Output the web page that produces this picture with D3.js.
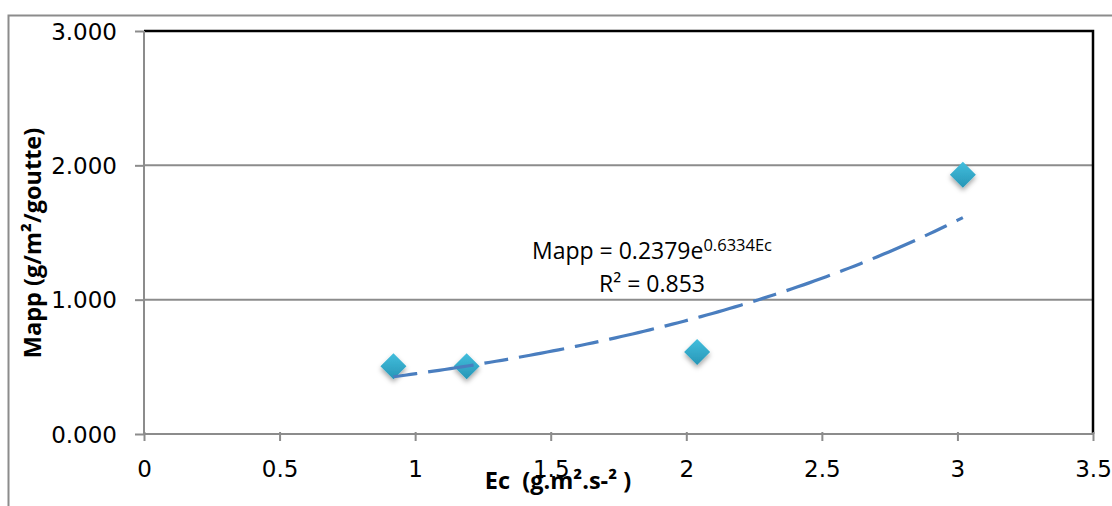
<!DOCTYPE html>
<meta charset="utf-8">
<style>
body { margin: 0; background: #fff; }
.axis-title { font: bold 23.5px "Open Sans", sans-serif; fill: #000; white-space: pre; }
.trend-label { font: 23px "Open Sans", sans-serif; fill: #000; }
</style>
<svg width="1112" height="506"></svg>
<script src="https://cdnjs.cloudflare.com/ajax/libs/d3/7.8.5/d3.min.js"></script>
<script>

// measured points
var ecValues = [0.92, 1.19, 2.04, 3.02];
var mappValues = [0.505, 0.505, 0.61, 1.93];

// exponential fit shown on the chart
var fitA = 0.2379, fitB = 0.6334;
var fitR2 = "0.853";

var xTicks = [0, 0.5, 1, 1.5, 2, 2.5, 3, 3.5];
var yTicks = [0, 1, 2, 3];

var svg = d3.select("svg"),
    margin = {left: 144, right: 19, top: 31, bottom: 72},
    width = +svg.attr("width") - margin.left - margin.right,
    height = +svg.attr("height") - margin.top - margin.bottom;

// outer chart frame
svg.append("rect")
    .attr("x", 8.5).attr("y", 15.5)
    .attr("width", 1120).attr("height", 520)
    .attr("fill", "none")
    .attr("stroke", "#8c8c8c")
    .attr("stroke-width", 2);

var x = d3.scaleLinear().domain([0, 3.5]).range([0, width]);
var y = d3.scaleLinear().domain([0, 3]).range([height, 0]);

var defs = svg.append("defs");
var grad = defs.append("linearGradient")
    .attr("id", "diam").attr("x1", 0).attr("y1", 0).attr("x2", 0).attr("y2", 1);
grad.append("stop").attr("offset", "0%").attr("stop-color", "#42bedd");
grad.append("stop").attr("offset", "100%").attr("stop-color", "#2796b6");

var shadow = defs.append("filter").attr("id", "shadow")
    .attr("x", "-50%").attr("y", "-50%").attr("width", "200%").attr("height", "200%");
shadow.append("feDropShadow")
    .attr("dx", 0).attr("dy", 3).attr("stdDeviation", 2.5)
    .attr("flood-color", "#000").attr("flood-opacity", 0.35);

var g = svg.append("g").attr("transform", "translate(" + margin.left + "," + margin.top + ")");

// gridlines
g.append("g")
  .selectAll("line")
  .data(yTicks.filter(function(d) { return d > 0 && d < 3; }))
  .enter().append("line")
    .attr("x1", 0).attr("x2", width)
    .attr("y1", function(d) { return y(d); })
    .attr("y2", function(d) { return y(d); })
    .attr("stroke", "#8c8c8c")
    .attr("stroke-width", 2);

// plot area border (top + right black)
g.append("path")
    .attr("d", "M0," + y(3) + "H" + width + "V" + height)
    .attr("fill", "none")
    .attr("stroke", "#000")
    .attr("stroke-width", 2.5);

var xAxis = g.append("g")
    .attr("transform", "translate(0," + height + ")")
    .call(d3.axisBottom(x).tickValues(xTicks).tickSize(0).tickPadding(27)
      .tickFormat(function(d) { return String(d); }));
xAxis.selectAll(".tick").append("line")
    .attr("y1", -2).attr("y2", 7)
    .attr("stroke", "#8c8c8c").attr("stroke-width", 2);

var yAxis = g.append("g")
    .call(d3.axisLeft(y).tickValues(yTicks).tickSize(9).tickPadding(18)
      .tickFormat(d3.format(".3f")));
yAxis.selectAll(".tick line").attr("stroke", "#8c8c8c").attr("stroke-width", 2);

g.selectAll(".tick text")
    .style("font-family", "'DejaVu Sans', sans-serif")
    .style("font-size", "23px")
    .style("fill", "#000");

g.selectAll(".domain").attr("stroke", "#8c8c8c").attr("stroke-width", 2);
xAxis.select(".domain").attr("d", "M0,0H" + width);
yAxis.select(".domain").attr("d", "M0,0V" + height);
yAxis.selectAll(".tick text").attr("dy", "0.36em");

// markers
var r = 13;
g.append("g")
  .selectAll("path")
  .data(ecValues)
  .enter().append("path")
    .attr("d", "M0," + (-r) + "L" + r + ",0L0," + r + "L" + (-r) + ",0Z")
    .attr("transform", function(d, i) { return "translate(" + x(d) + "," + y(mappValues[i]) + ")"; })
    .attr("fill", "url(#diam)")
    .attr("filter", "url(#shadow)");

// trendline
var xs = d3.range(0, 101).map(function(i) {
  return ecValues[0] + (ecValues[ecValues.length - 1] - ecValues[0]) * i / 100;
});
g.append("path")
    .datum(xs)
    .attr("d", d3.line()
      .x(function(d) { return x(d); })
      .y(function(d) { return y(fitA * Math.exp(fitB * d)); }))
    .attr("fill", "none")
    .attr("stroke", "#4a7ebf")
    .attr("stroke-width", 3.2)
    .attr("stroke-dasharray", "24,11,46,11");

// equation label
var lab = svg.append("text").attr("class", "trend-label")
    .attr("x", 532).attr("y", 259);
lab.append("tspan").text("Mapp = " + fitA + "e");
lab.append("tspan").attr("dy", -8).attr("font-size", 16.5).text(fitB + "Ec");
svg.append("text").attr("class", "trend-label")
    .attr("x", 652).attr("y", 292).attr("text-anchor", "middle")
    .text("R² = " + fitR2);

// axis titles
svg.append("text").attr("class", "axis-title")
    .attr("x", 558).attr("y", 489).attr("text-anchor", "middle")
    .text("Ec  (g.m².s-² )");
svg.append("text").attr("class", "axis-title")
    .attr("transform", "translate(41,243) rotate(-90)")
    .attr("text-anchor", "middle")
    .text("Mapp (g/m²/goutte)");

</script>
